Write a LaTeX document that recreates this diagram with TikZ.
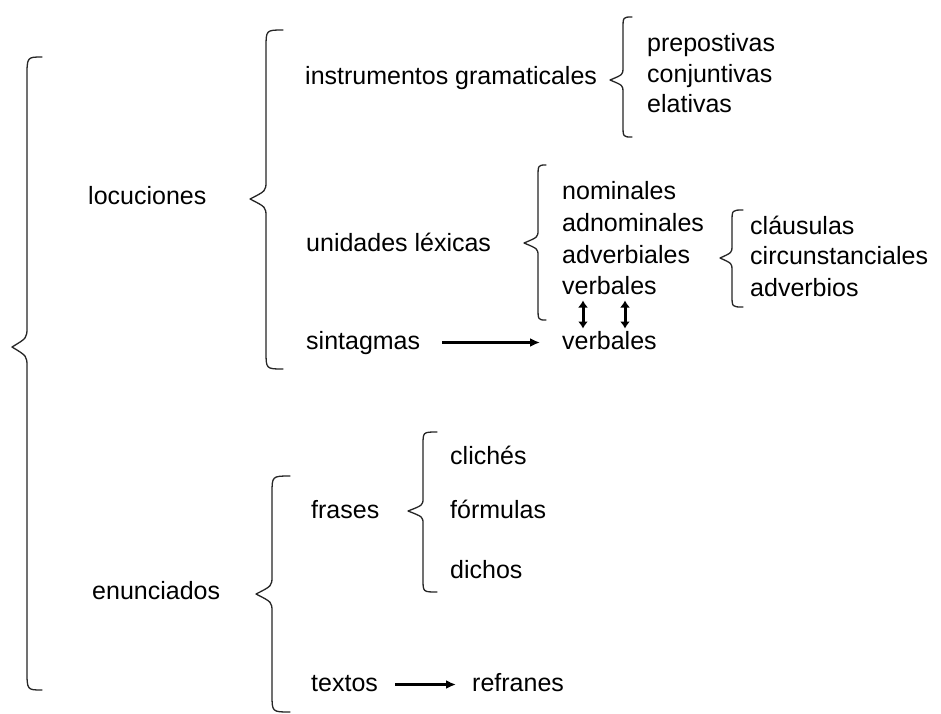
\documentclass[tikz,border=0pt]{standalone}
\usepackage{fontspec}
\setmainfont{Liberation Sans}
\usetikzlibrary{arrows.meta,calc}
\newcommand{\curlybr}[7]{% xe xv xt yt ym yb r
  \draw[brc] (#1,#4) .. controls (#2,#4) .. (#2,{#4+#7})
    -- (#2,{#5-#7}) .. controls (#2,{#5-0.45*#7}) .. (#3,#5)
    .. controls (#2,{#5+0.45*#7}) .. (#2,{#5+#7})
    -- (#2,{#6-#7}) .. controls (#2,#6) .. (#1,#6);}
\tikzset{
  lbl/.style={anchor=base west, inner sep=0pt, font=\fontsize{25}{30}\selectfont},
  brc/.style={line width=1.3pt, draw=black!85, line cap=round, line join=round},
  harrow/.style={line width=3pt, -{Latex[length=10pt,width=9pt]}},
  varrow/.style={line width=3pt, {Latex[length=7pt,width=10pt]}-{Latex[length=7pt,width=10pt]}}
}
\begin{document}
\begin{tikzpicture}[x=1pt,y=-1pt]
\useasboundingbox[fill=white] (0,0) rectangle (941,713);
% texts
\node[lbl] (locu) at (88,204.5) {locuciones};
\node[lbl] (enun) at (92,599.5) {enunciados};
\node[lbl] (instr) at (305,84.5) {instrumentos gramaticales};
\node[lbl] (prep) at (647,51.5) {prepostivas};
\node[lbl] (conj) at (647,82.5) {conjuntivas};
\node[lbl] (elat) at (647,112.5) {elativas};
\node[lbl] (unid) at (306,251.5) {unidades léxicas};
\node[lbl] (nomi) at (562,199.5) {nominales};
\node[lbl] (adno) at (562,231.5) {adnominales};
\node[lbl] (adve) at (562,263.5) {adverbiales};
\node[lbl] (verb) at (562,294.5) {verbales};
\node[lbl] (clau) at (750,234.5) {cláusulas};
\node[lbl] (circ) at (750,264.5) {circunstanciales};
\node[lbl] (advb) at (750,296.5) {adverbios};
\node[lbl] (sint) at (306,349.5) {sintagmas};
\node[lbl] (verbB) at (562,349.5) {verbales};
\node[lbl] (fras) at (311,518.5) {frases};
\node[lbl] (clic) at (450,464.5) {clichés};
\node[lbl] (form) at (450,518.5) {fórmulas};
\node[lbl] (dich) at (450,578.5) {dichos};
\node[lbl] (text) at (311,691.5) {textos};
\node[lbl] (refr) at (472,691.5) {refranes};
% braces
\curlybr{42}{27}{12}{57}{347}{690}{20}
\curlybr{283}{266}{250}{30}{199}{369}{18}
\curlybr{290}{272}{256}{476}{594}{712}{18}
\curlybr{632}{623}{610}{17}{80}{137}{12}
\curlybr{546}{538}{524}{165}{243}{320}{13}
\curlybr{743}{732}{720}{210}{258}{307}{12}
\curlybr{437}{423}{408}{432}{511}{592}{13}
% arrows
\draw[harrow] ($(sint.base east)+(22,-7)$) -- ($(verbB.base west)+(-22,-7)$);
\draw[harrow] ($(text.base east)+(17,-7)$) -- ($(refr.base west)+(-16,-7)$);
\draw[varrow] ($(verb.base west)+(21,6)$) -- ($(verbB.base west)+(21,-21)$);
\draw[varrow] ($(verb.base west)+(63,6)$) -- ($(verbB.base west)+(63,-21)$);
\end{tikzpicture}
\end{document}
